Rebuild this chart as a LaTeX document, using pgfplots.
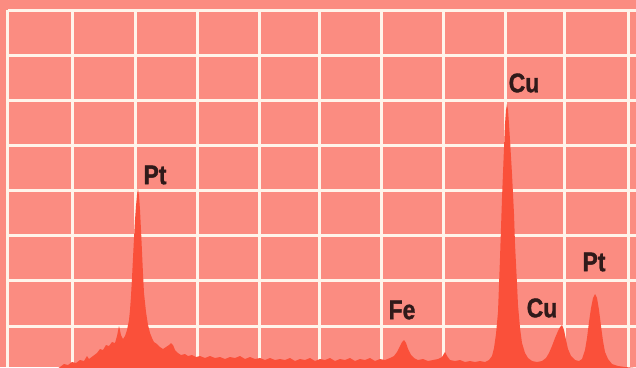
\documentclass[border=0pt]{standalone}
\usepackage{pgfplots}
\pgfplotsset{compat=1.18}
\usepackage{graphicx}
\usepackage{fontspec}
\setmainfont{Liberation Sans}
\newfontfamily\labfont{Liberation Sans Bold}[FakeBold=1.3]
\definecolor{bg}{RGB}{251,140,129}
\definecolor{spec}{RGB}{250,80,58}
\definecolor{gridc}{RGB}{255,244,234}
\definecolor{txt}{RGB}{48,26,26}
\newcommand{\lab}[1]{\scalebox{0.85}[1]{\fontsize{27}{27}\selectfont\labfont #1}}
\begin{document}
\begin{tikzpicture}
\fill[bg] (-8pt,0pt) rectangle (628pt,367pt);
\begin{axis}[
  scale only axis, width=628pt, height=357pt,
  xmin=8, xmax=636, ymin=10, ymax=367, y dir=reverse,
  axis line style={draw=none},
  xtick={8,72,135,197,259,319,381,443,505,564,628},
  ytick={10,55,100,145,190,235,280,326},
  xticklabels={}, yticklabels={},
  major tick length=0pt,
  grid=major,
  grid style={line width=3pt, color=gridc},
  clip=true,
]
\addplot[fill=spec, draw=none] coordinates {
(55,370) (60,367) (64,364) (68,365) (72,362) (76,363) (80,360) (84,361) (87,356) (89,359) (93,356) (97,353) (100,349) (103,350) (106,345) (109,346) (112,342) (115,343) (117,336) (119,326) (121,335) (123,339) (125,336) (127,330) (129,320) (130,310) (131,296) (132,278) (133,258) (134,238) (135,220) (136,206) (137,195) (138,189) (139,196) (140,210) (141,230) (142,252) (143,274) (144,293) (146,312) (148,325) (150,333) (152,338) (154,342) (157,344) (160,347) (163,349) (166,347) (169,345) (171,343) (173,345) (175,350) (178,353) (181,355) (185,354) (188,356) (192,355) (196,357) (200,356) (205,358) (210,356) (215,358) (220,357) (225,359) (230,357) (235,358) (240,356) (245,359) (250,357) (255,359) (260,358) (265,360) (270,358) (275,360) (280,359) (285,360) (290,358) (295,361) (300,359) (305,360) (310,358) (315,361) (320,359) (325,360) (330,358) (335,361) (340,359) (345,360) (350,358) (355,361) (360,359) (365,360) (370,358) (375,361) (380,359) (385,360) (390,358) (394,356) (397,352) (400,346) (402,342) (404,340) (406,343) (408,349) (411,355) (414,358) (418,360) (423,359) (428,361) (433,360) (438,359) (442,357) (445,352) (447,356) (450,360) (455,361) (460,360) (465,362) (470,361) (475,362) (480,361) (485,362) (489,360) (492,356) (494,348) (496,334) (498,312) (500,258) (502,198) (504,148) (505,124) (506,110) (507,104) (508,110) (509,124) (510,140) (512,174) (514,214) (515,244) (517,284) (518,305) (520,328) (522,343) (525,353) (528,358) (532,361) (537,362) (542,361) (546,358) (549,353) (552,346) (555,338) (558,331) (560,327) (562,325) (564,330) (566,340) (568,349) (571,356) (575,360) (579,361) (582,359) (585,350) (587,338) (589,322) (591,308) (593,298) (595,294) (597,298) (599,310) (601,326) (603,341) (605,352) (608,359) (612,364) (618,366) (625,367) (636,368) (640,372)
};
\node[txt] at (axis cs:155,175) {\lab{Pt}};
\node[txt] at (axis cs:524,83) {\lab{Cu}};
\node[txt] at (axis cs:402,310) {\lab{Fe}};
\node[txt] at (axis cs:542,308) {\lab{Cu}};
\node[txt] at (axis cs:594,262) {\lab{Pt}};
\end{axis}
\pgfresetboundingbox
\path[use as bounding box] (-8pt,0pt) rectangle (628pt,367pt);
\end{tikzpicture}
\end{document}
